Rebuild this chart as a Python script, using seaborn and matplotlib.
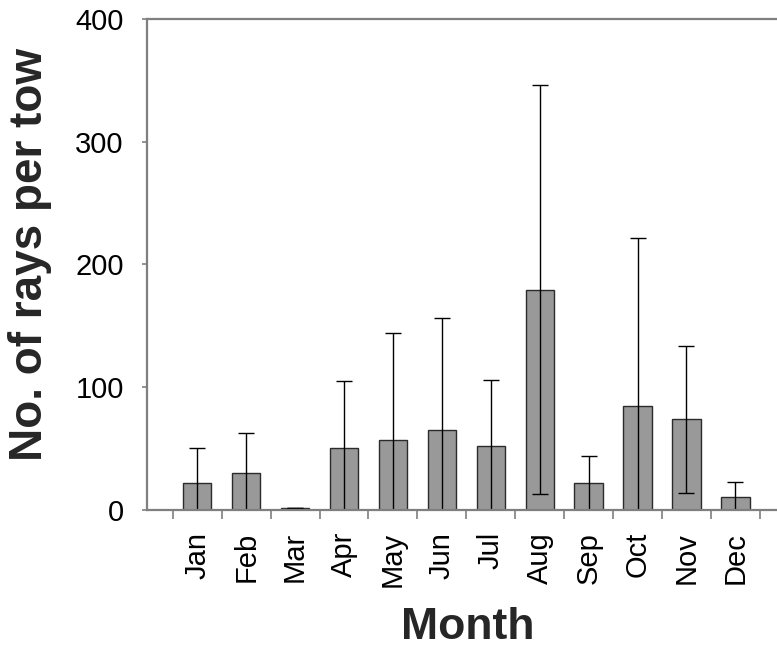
import matplotlib
matplotlib.use("Agg")
import matplotlib.pyplot as plt
import numpy as np
import pandas as pd
import seaborn as sns

# values (mean rays per tow, +/- SD)
months = ["Jan", "Feb", "Mar", "Apr", "May", "Jun",
          "Jul", "Aug", "Sep", "Oct", "Nov", "Dec"]
mean_rays = [21.5, 29.8, 1.5, 50.5, 56.6, 64.8, 51.6, 179.3, 21.5, 84.1, 73.7, 10.2]
sd_rays = [28.4, 32.5, 0.0, 54.6, 87.4, 91.3, 54.1, 166.9, 22.1, 137.7, 60.1, 12.1]
y_ticks = [0, 100, 200, 300, 400]

sns.set_theme(style="white")
plt.rcParams["font.family"] = ["Liberation Sans", "DejaVu Sans"]

df = pd.DataFrame({"month": months, "rays": mean_rays, "sd": sd_rays})

fig = plt.figure(figsize=(7.77, 6.49), dpi=100)
ax = fig.add_axes([0.189, 0.2149, 0.811, 0.7551])

sns.barplot(data=df, x="month", y="rays", order=months, color="#999999",
            saturation=1, edgecolor="#2b2b2b", linewidth=1.0, width=0.58,
            errorbar=None, ax=ax)
# keep the SD bars under the axis line so clipped lower caps vanish
ax.errorbar(np.arange(len(months)), df["rays"], yerr=df["sd"], fmt="none",
            ecolor="black", elinewidth=1.0, capsize=5.5, capthick=1.0, zorder=2.2)

ax.set_ylim(0, 400)
ax.set_xlim(-1.03, 11.85)
ax.set_yticks(y_ticks)

# category boundary ticks like the original
ax.set_xticks(np.arange(-0.5, len(months), 1), minor=True)
ax.tick_params(axis="x", which="major", length=0, pad=16, labelsize=21,
               labelrotation=90, labelcolor="black")
ax.tick_params(axis="x", which="minor", length=6.5, width=1.2,
               color="#7f7f7f", direction="out", bottom=True)
ax.tick_params(axis="y", length=3.6, width=1.2, color="#7f7f7f",
               direction="out", left=True, pad=13, labelsize=21,
               labelcolor="black")

for side in ["left", "bottom", "top"]:
    ax.spines[side].set_color("#7f7f7f")
    ax.spines[side].set_linewidth(1.6)
    ax.spines[side].set_zorder(3)
ax.spines["right"].set_visible(False)

ax.set_ylabel("No. of rays per tow", fontsize=33, fontweight="bold")
ax.yaxis.set_label_coords(-0.151, 0.52)
ax.set_xlabel("Month", fontsize=32, fontweight="bold")
ax.xaxis.set_label_coords(0.51, -0.199)

fig.savefig("out.png", dpi=100)
